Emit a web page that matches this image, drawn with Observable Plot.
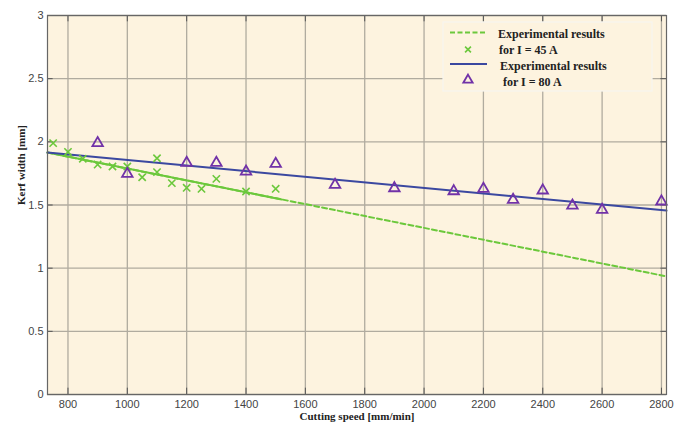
<!DOCTYPE html>
<html>
<head>
<meta charset="utf-8">
<script src="https://cdn.jsdelivr.net/npm/d3@7"></script>
<script src="https://cdn.jsdelivr.net/npm/@observablehq/plot@0.6"></script>
<style>
  html, body { margin: 0; padding: 0; background: #ffffff; }
  #chart { position: relative; width: 685px; height: 425px; }
</style>
</head>
<body>
<div id="chart"></div>
<script>
// ---- Data ----
const speed45 = [750, 800, 850, 900, 950, 1000, 1050, 1100, 1100, 1150, 1200, 1250, 1300, 1400, 1500];
const kerf45  = [1.99, 1.92, 1.866, 1.82, 1.805, 1.805, 1.72, 1.87, 1.76, 1.673, 1.636, 1.628, 1.707, 1.607, 1.628];

const speed80 = [900, 1000, 1200, 1300, 1400, 1500, 1700, 1900, 2100, 2200, 2300, 2400, 2500, 2600, 2800];
const kerf80  = [1.99, 1.747, 1.834, 1.834, 1.765, 1.826, 1.66, 1.633, 1.609, 1.628, 1.541, 1.615, 1.496, 1.462, 1.528];

// fitted trend lines (end points)
const fitSpeed   = [731, 2817];
const fit45Kerf  = [1.915, 0.935];
const fit80Kerf  = [1.915, 1.456];
const fit45SolidEnd = 1520; // solid part of the 45 A fit over the data range

const xTicks = [800, 1000, 1200, 1400, 1600, 1800, 2000, 2200, 2400, 2600, 2800];
const yTicks = [0, 0.5, 1, 1.5, 2, 2.5, 3];

const legendLabels = [["Experimental results", "for I = 45 A"], ["Experimental results", "for I = 80 A"]];

// ---- Build tables ----
const pts45 = speed45.map((s, i) => ({speed: s, kerf: kerf45[i]}));
const pts80 = speed80.map((s, i) => ({speed: s, kerf: kerf80[i]}));
const line45 = fitSpeed.map((s, i) => ({speed: s, kerf: fit45Kerf[i]}));
const line80 = fitSpeed.map((s, i) => ({speed: s, kerf: fit80Kerf[i]}));
const slope45 = (fit45Kerf[1] - fit45Kerf[0]) / (fitSpeed[1] - fitSpeed[0]);
const line45Solid = [line45[0], {speed: fit45SolidEnd, kerf: fit45Kerf[0] + slope45 * (fit45SolidEnd - fitSpeed[0])}];

const GREEN = "#6cc83c";
const BLUE = "#3b48a0";
const PURPLE = "#7132a8";
const BG = "#fdf3df";
const GRID = "#b0ab9f";
const serif = "'Liberation Serif', 'Times New Roman', serif";

const chart = Plot.plot({
  width: 685,
  height: 425,
  marginLeft: 47,
  marginRight: 19,
  marginTop: 15,
  marginBottom: 31,
  style: {background: "#ffffff", fontFamily: "'Liberation Sans', Arial, sans-serif", fontSize: "11px", color: "#444"},
  x: {type: "linear", domain: [731, 2817]},
  y: {type: "linear", domain: [0, 3]},
  marks: [
    Plot.frame({fill: BG, stroke: null}),
    Plot.ruleX(xTicks, {stroke: GRID, strokeWidth: 1.3}),
    Plot.ruleY(yTicks, {stroke: GRID, strokeWidth: 1.3}),
    // small inward ticks
    Plot.ruleX(xTicks, {y1: 0, y2: 0.05, stroke: "#555"}),
    Plot.ruleX(xTicks, {y1: 2.95, y2: 3, stroke: "#555"}),
    Plot.ruleY(yTicks, {x1: 731, x2: 750, stroke: "#555"}),
    Plot.ruleY(yTicks, {x1: 2798, x2: 2817, stroke: "#555"}),
    Plot.line(line45, {x: "speed", y: "kerf", stroke: GREEN, strokeWidth: 2, strokeDasharray: "5,3"}),
    Plot.line(line45Solid, {x: "speed", y: "kerf", stroke: GREEN, strokeWidth: 2}),
    Plot.line(line80, {x: "speed", y: "kerf", stroke: BLUE, strokeWidth: 2}),
    Plot.dot(pts45, {x: "speed", y: "kerf", symbol: "times", r: 3.4, stroke: GREEN, strokeWidth: 1.6}),
    Plot.dot(pts80, {x: "speed", y: "kerf", symbol: "triangle", r: 3.9, stroke: PURPLE, strokeWidth: 1.8, fill: "none"}),
    Plot.frame({stroke: "#666", strokeWidth: 1.2}),
    Plot.axisX(xTicks, {tickSize: 0, tickPadding: 6, label: null, fill: "#444", tickFormat: d => String(d)}),
    Plot.axisY(yTicks, {tickSize: 0, tickPadding: 4, label: null, fill: "#444", tickFormat: d => String(d)}),
    Plot.text(["Cutting speed [mm/min]"], {frameAnchor: "bottom", dy: 25, fontFamily: serif, fontWeight: "bold", fontSize: 11, fill: "#222"}),
    Plot.text(["Kerf width [mm]"], {frameAnchor: "left", dx: -26, rotate: -90, fontFamily: serif, fontWeight: "bold", fontSize: 11, fill: "#222"})
  ]
});

document.getElementById("chart").appendChild(chart);

// ---- Legend ----
const svg = d3.select(chart);
const lg = svg.append("g").attr("transform", "translate(443,22)");
lg.append("rect").attr("width", 209).attr("height", 69).attr("fill", BG).attr("stroke", "#f7f5f0").attr("stroke-width", 1.2);
// 45 A entry
lg.append("path").attr("d", "M7,10.5H42").attr("stroke", GREEN).attr("stroke-width", 2).attr("stroke-dasharray", "5,2.5").attr("fill", "none");
lg.append("path").attr("d", d3.symbol(d3.symbolX, 24)()).attr("transform", "translate(25,27.5)").attr("stroke", GREEN).attr("stroke-width", 1.6).attr("fill", "none");
lg.append("text").attr("x", 55).attr("y", 15.5).text(legendLabels[0][0]);
lg.append("text").attr("x", 56).attr("y", 32).text(legendLabels[0][1]);
// 80 A entry
lg.append("path").attr("d", "M7,42H44").attr("stroke", BLUE).attr("stroke-width", 2).attr("fill", "none");
lg.append("path").attr("d", d3.symbol(d3.symbolTriangle, 38)()).attr("transform", "translate(25,58)").attr("stroke", PURPLE).attr("stroke-width", 1.8).attr("fill", "none");
lg.append("text").attr("x", 57).attr("y", 47.5).text(legendLabels[1][0]);
lg.append("text").attr("x", 60).attr("y", 63.5).text(legendLabels[1][1]);
lg.selectAll("text").attr("font-family", serif).attr("font-weight", "bold").attr("font-size", 12).attr("fill", "#222").attr("text-anchor", "start");
</script>
</body>
</html>
